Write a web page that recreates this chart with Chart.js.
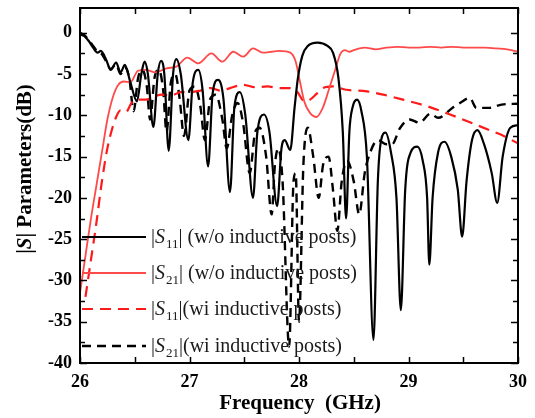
<!DOCTYPE html>
<html><head><meta charset="utf-8">
<script src="https://cdn.jsdelivr.net/npm/chart.js@4"></script>
<style>html,body{margin:0;padding:0;background:#fff}</style>
</head><body>
<canvas id="c" width="535" height="418"></canvas>
<script>
// ---------------- data ----------------
const seriesLabels = [
  '|S11| (w/o inductive posts)',
  '|S21| (w/o inductive posts)',
  '|S11|(wi inductive posts)',
  '|S21|(wi inductive posts)'
];
const xTickLabels = ['26', '27', '28', '29', '30'];
const yTickLabels = ['0', '-5', '-10', '-15', '-20', '-25', '-30', '-35', '-40'];

// |S11| w/o inductive posts (black solid)
const fS11wo = [26.00,26.04,26.08,26.12,26.16,26.19,26.24,26.28,26.33,26.37,26.41,26.46,26.52,26.56,26.59,26.62,26.67,26.71,26.74,26.77,26.81,26.85,26.88,26.92,26.99,27.03,27.08,27.12,27.17,27.21,27.26,27.31,27.37,27.41,27.46,27.51,27.58,27.62,27.68,27.73,27.80,27.84,27.87,27.92,27.96,27.99,28.03,28.08,28.17,28.26,28.31,28.36,28.40,28.43,28.46,28.49,28.53,28.57,28.62,28.68,28.72,28.75,28.79,28.84,28.89,28.93,28.97,29.02,29.08,29.13,29.17,29.19,29.22,29.27,29.33,29.39,29.45,29.49,29.53,29.58,29.63,29.69,29.76,29.81,29.86,29.93,30.00];
const vS11wo = [-0.2,-0.4,-1.0,-1.8,-2.4,-2.2,-3.3,-4.5,-3.6,-4.8,-3.9,-6.0,-8.3,-5.0,-3.5,-5.0,-11.4,-5.0,-3.4,-5.0,-14.3,-5.0,-3.2,-5.0,-13.0,-6.0,-4.5,-7.0,-16.2,-7.5,-5.7,-8.0,-19.3,-9.0,-7.2,-10.0,-20.0,-12.0,-9.9,-12.0,-21.0,-14.0,-13.0,-14.2,-9.0,-5.5,-2.8,-1.6,-1.2,-1.6,-2.4,-5.5,-12.0,-22.5,-12.0,-9.0,-8.1,-9.5,-15.0,-37.2,-18.0,-13.0,-12.1,-14.5,-20.0,-33.6,-19.0,-14.5,-13.8,-15.5,-20.0,-28.1,-20.0,-14.5,-13.2,-15.0,-19.0,-24.7,-18.0,-13.0,-11.8,-13.5,-17.0,-20.6,-15.0,-11.5,-11.2];

// |S21| w/o inductive posts (red solid)
const fS21wo = [26.00,26.05,26.10,26.15,26.20,26.25,26.30,26.35,26.40,26.46,26.53,26.60,26.69,26.79,26.88,26.98,27.08,27.20,27.30,27.40,27.49,27.58,27.67,27.75,27.82,27.92,27.97,28.01,28.05,28.10,28.16,28.22,28.27,28.33,28.38,28.42,28.46,28.50,28.60,28.70,28.80,28.90,29.00,29.10,29.20,29.30,29.40,29.50,29.60,29.70,29.80,29.90,30.00];
const vS21wo = [-31.5,-27.0,-22.5,-18.5,-14.5,-10.5,-7.8,-6.3,-5.9,-6.0,-4.6,-4.5,-4.8,-4.3,-4.1,-3.0,-3.7,-2.5,-3.5,-2.3,-2.9,-1.9,-2.4,-2.3,-2.2,-2.4,-3.5,-6.0,-8.4,-9.7,-10.2,-9.0,-7.0,-4.5,-2.5,-2.1,-2.3,-2.1,-1.8,-2.0,-1.8,-1.7,-1.8,-1.8,-1.7,-1.8,-1.7,-1.8,-1.8,-1.8,-1.9,-2.0,-2.3];

// |S11| wi inductive posts (red dashed)
const fS11wi = [26.05,26.10,26.15,26.20,26.25,26.29,26.33,26.37,26.42,26.47,26.52,26.60,26.68,26.75,26.83,26.92,27.00,27.10,27.19,27.28,27.37,27.49,27.60,27.71,27.82,27.92,27.98,28.05,28.10,28.16,28.22,28.31,28.43,28.62,28.77,28.95,29.17,29.38,29.59,29.74,29.87,30.00];
const vS11wi = [-32.0,-27.5,-23.0,-18.0,-14.0,-11.8,-10.2,-9.4,-9.6,-8.5,-8.1,-8.1,-7.7,-7.5,-7.6,-7.2,-7.2,-7.0,-6.7,-7.0,-6.7,-6.3,-6.6,-6.5,-6.7,-6.7,-7.1,-8.3,-8.1,-7.4,-6.7,-6.5,-6.9,-7.1,-7.5,-8.1,-8.9,-9.9,-11.0,-11.8,-12.5,-13.4];

// |S21| wi inductive posts (black dashed)
const fS21wi = [26.00,26.04,26.08,26.12,26.16,26.20,26.24,26.28,26.33,26.37,26.41,26.45,26.49,26.53,26.57,26.61,26.64,26.68,26.72,26.76,26.79,26.83,26.87,26.91,26.95,27.00,27.05,27.10,27.14,27.19,27.24,27.30,27.34,27.39,27.44,27.49,27.55,27.60,27.64,27.70,27.75,27.78,27.81,27.85,27.91,27.95,27.97,28.00,28.04,28.08,28.13,28.18,28.22,28.27,28.31,28.35,28.39,28.44,28.50,28.55,28.60,28.65,28.72,28.80,28.85,28.92,29.01,29.10,29.20,29.27,29.40,29.47,29.56,29.62,29.74,29.85,30.00];
const vS21wi = [0.0,-0.3,-0.9,-1.6,-2.3,-2.6,-3.5,-4.4,-3.8,-5.0,-4.2,-5.5,-9.5,-5.5,-4.5,-6.5,-10.5,-5.5,-4.5,-7.0,-12.0,-6.0,-5.0,-8.0,-12.5,-7.0,-6.5,-9.0,-13.0,-8.0,-7.5,-10.5,-14.0,-10.0,-8.5,-11.0,-17.0,-12.0,-11.5,-15.0,-22.0,-16.0,-14.0,-18.0,-38.0,-18.0,-17.0,-35.0,-16.0,-11.5,-15.0,-20.0,-16.0,-15.0,-19.0,-24.0,-18.0,-15.5,-18.0,-22.0,-17.0,-14.5,-13.0,-13.5,-13.5,-11.6,-10.5,-10.9,-9.8,-10.3,-9.1,-8.5,-7.9,-9.1,-9.1,-8.7,-8.6];

// ---------------- helpers ----------------
const pts = (fs, vs) => fs.map((f, i) => ({ x: f, y: vs[i] }));
const SERIF = '"Liberation Serif","Times New Roman",serif';

const framePlugin = {
  id: 'frame',
  afterDraw(chart) {
    const { ctx, chartArea: a, scales: { x, y } } = chart;
    ctx.save();
    ctx.strokeStyle = '#000';
    ctx.lineWidth = 2;
    ctx.strokeRect(a.left, a.top, a.right - a.left, a.bottom - a.top);
    ctx.lineWidth = 1.5;
    ctx.beginPath();
    for (let v = 26; v <= 30.001; v += 0.5) {
      const px = Math.round(x.getPixelForValue(v)) + 0.5;
      const L = 6;
      ctx.moveTo(px, a.bottom); ctx.lineTo(px, a.bottom - L);
      ctx.moveTo(px, a.top); ctx.lineTo(px, a.top + L);
    }
    for (let v = -40; v <= 0.001; v += 2.5) {
      const py = Math.round(y.getPixelForValue(v)) + 0.5;
      const L = (Math.abs(v % 5) < 0.01) ? 7 : 5;
      ctx.moveTo(a.left, py); ctx.lineTo(a.left + L, py);
      ctx.moveTo(a.right, py); ctx.lineTo(a.right - L, py);
    }
    ctx.stroke();

    // axis titles
    ctx.fillStyle = '#000';
    ctx.textBaseline = 'middle';
    ctx.textAlign = 'center';
    ctx.font = 'bold 21px ' + SERIF;
    ctx.fillText('Frequency  (GHz)', 300, 404);

    ctx.translate(26, 169);
    ctx.rotate(-Math.PI / 2);
    const parts = [['|', 'bold 21px '], ['S', 'italic bold 21px '], ['| Parameters(dB)', 'bold 21px ']];
    let total = 0;
    parts.forEach(p => { ctx.font = p[1] + SERIF; total += ctx.measureText(p[0]).width; });
    let cx = -total / 2;
    ctx.textAlign = 'left';
    parts.forEach(p => { ctx.font = p[1] + SERIF; ctx.fillText(p[0], cx, 0); cx += ctx.measureText(p[0]).width; });
    ctx.restore();

    // legend
    ctx.save();
    const rows = [237, 273, 309, 346];
    chart.data.datasets.forEach((ds, i) => {
      const ry = rows[i];
      ctx.strokeStyle = ds.borderColor;
      ctx.lineWidth = ds.borderWidth;
      ctx.setLineDash(ds.borderDash || []);
      ctx.beginPath();
      ctx.moveTo(82, ry); ctx.lineTo(146, ry);
      ctx.stroke();
      ctx.setLineDash([]);
      const m = /^\|S(\d+)\|(.*)$/.exec(ds.label);
      let tx = 151;
      ctx.fillStyle = '#1a1a1a';
      ctx.textBaseline = 'alphabetic';
      ctx.textAlign = 'left';
      const base = ry + 6;
      const segs = [['|', '20px ', 0], ['S', 'italic 20px ', 0], [m[1], '13px ', 5], ['|' + m[2], '20px ', 0]];
      segs.forEach(s => {
        ctx.font = s[1] + SERIF;
        ctx.fillText(s[0], tx, base + s[2]);
        tx += ctx.measureText(s[0]).width + (s[0] === 'S' ? 1 : 0);
      });
    });
    ctx.restore();
  }
};

new Chart(document.getElementById('c'), {
  type: 'line',
  data: {
    datasets: [
      { label: seriesLabels[0], data: pts(fS11wo, vS11wo), borderColor: '#000000', borderWidth: 2.2, cubicInterpolationMode: 'monotone' },
      { label: seriesLabels[1], data: pts(fS21wo, vS21wo), borderColor: '#ff4a4a', borderWidth: 1.8, cubicInterpolationMode: 'monotone' },
      { label: seriesLabels[2], data: pts(fS11wi, vS11wi), borderColor: '#ff1a1a', borderWidth: 2.2, borderDash: [11, 7], cubicInterpolationMode: 'monotone' },
      { label: seriesLabels[3], data: pts(fS21wi, vS21wi), borderColor: '#000000', borderWidth: 2.4, borderDash: [9, 6], cubicInterpolationMode: 'monotone' }
    ]
  },
  options: {
    responsive: false,
    animation: false,
    layout: { padding: { top: 8, right: 17, left: 0, bottom: 0 } },
    elements: { point: { radius: 0 } },
    plugins: { legend: { display: false }, tooltip: { enabled: false } },
    scales: {
      x: {
        type: 'linear', min: 26, max: 30,
        grid: { display: false, drawTicks: false },
        border: { display: false },
        afterFit: s => { s.height = 55; s.paddingLeft = 0; s.paddingRight = 0; },
        afterBuildTicks: s => { s.ticks = xTickLabels.map(t => ({ value: Number(t) })); },
        ticks: { padding: 9, color: '#000', font: { family: SERIF, size: 18, weight: 'bold' },
                 callback: (v) => xTickLabels.find(t => Number(t) === v) }
      },
      y: {
        type: 'linear', min: -40, max: 3,
        grid: { display: false, drawTicks: false },
        border: { display: false },
        afterFit: s => { s.width = 80; s.paddingTop = 0; s.paddingBottom = 0; },
        afterBuildTicks: s => { s.ticks = yTickLabels.map(t => ({ value: Number(t) })); },
        ticks: { padding: 8, color: '#000', font: { family: SERIF, size: 18, weight: 'bold' },
                 callback: (v) => yTickLabels.find(t => Number(t) === v) }
      }
    }
  },
  plugins: [framePlugin]
});
</script>
</body></html>
